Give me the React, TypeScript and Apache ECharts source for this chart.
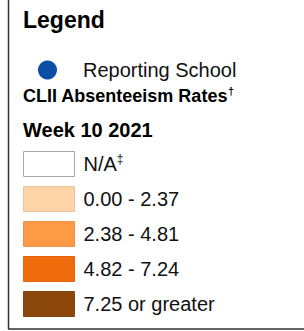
import React, { useEffect, useRef } from "react";
import * as echarts from "echarts";

const pointSeries = ["Reporting School"];
const pointColors = ["#0B4EA3"];
const rateCategories = ["N/A", "0.00 - 2.37", "2.38 - 4.81", "4.82 - 7.24", "7.25 or greater"];
const rateColors = ["#FFFFFF", "#FDD4A8", "#FD9A45", "#F06B0C", "#8B4709"];
const rateBorders = ["#A8A8A8", "#E9C39A", "#EE9448", "#E0670F", "#7E4610"];
const titleText = "Legend";
const rateTitle = "CLII Absenteeism Rates";
const weekTitle = "Week 10 2021";

const FONT = "'Liberation Sans', Arial, sans-serif";

export default function App() {
  const ref = useRef<HTMLDivElement>(null);
  useEffect(() => {
    if (!ref.current) return;
    const chart = echarts.init(ref.current, null, { renderer: "svg" });
    const series: any[] = [];
    pointSeries.forEach((n, i) =>
      series.push({ type: "scatter", name: n, data: [], symbol: "circle", itemStyle: { color: pointColors[i], opacity: 1 } })
    );
    rateCategories.forEach((n, i) =>
      series.push({
        type: "scatter",
        name: n,
        data: [],
        symbol: "rect",
        itemStyle: { color: rateColors[i], borderColor: rateBorders[i], borderWidth: 1, opacity: 1 },
      })
    );
    chart.setOption({
      animation: false,
      backgroundColor: "#fff",
      grid: { show: false, left: 0, top: 0, width: 1, height: 1 },
      xAxis: { show: false, type: "value" },
      yAxis: { show: false, type: "value" },
      legend: [
        {
          orient: "vertical",
          left: 38,
          top: 60,
          padding: 0,
          itemWidth: 19,
          itemHeight: 19,
          selectedMode: false,
          data: pointSeries.map((n, i) => ({ name: n, icon: "circle", itemStyle: { color: pointColors[i], opacity: 1 } })),
          textStyle: { fontFamily: FONT, fontSize: 20, color: "#111", padding: [0, 0, 0, 21] },
        },
        {
          orient: "vertical",
          left: 23,
          top: 151,
          padding: 0,
          itemWidth: 51,
          itemHeight: 25,
          itemGap: 9,
          selectedMode: false,
          data: rateCategories.map((n, i) => ({
            name: n,
            icon: "rect",
            itemStyle: { color: rateColors[i], borderColor: rateBorders[i], borderWidth: 1, opacity: 1 },
          })),
          formatter: (name: string) => (name === "N/A" ? "{t|N/A}{s|‡}" : "{t|" + name + "}"),
          textStyle: {
            fontFamily: FONT,
            fontSize: 20,
            color: "#111",
            padding: [0, 0, 0, 4],
            rich: {
              t: { fontFamily: FONT, fontSize: 20, color: "#111", lineHeight: 22 },
              s: { fontFamily: FONT, fontSize: 12, color: "#111", verticalAlign: "top", lineHeight: 22 },
            },
          },
        },
      ],
      graphic: [
        {
          type: "line",
          shape: { x1: 8.5, y1: 0, x2: 8.5, y2: 329 },
          style: { stroke: "#333", lineWidth: 1.5 },
        },
        {
          type: "line",
          shape: { x1: 8, y1: 329, x2: 304, y2: 329 },
          style: { stroke: "#333", lineWidth: 1.5 },
        },
        {
          type: "text",
          x: 23,
          y: 20,
          style: { text: titleText, font: "bold 23px " + FONT, fill: "#000", verticalAlign: "middle" },
        },
        {
          type: "text",
          x: 23,
          y: 96,
          style: {
            text: "{t|" + rateTitle + "}{s|†}",
            verticalAlign: "middle",
            rich: {
              t: { fontFamily: FONT, fontWeight: "bold", fontSize: 18, fill: "#000", lineHeight: 22 },
              s: { fontFamily: FONT, fontWeight: "bold", fontSize: 11, fill: "#000", verticalAlign: "top", lineHeight: 22 },
            },
          },
        },
        {
          type: "text",
          x: 23,
          y: 130,
          style: { text: weekTitle, font: "bold 20px " + FONT, fill: "#000", verticalAlign: "middle" },
        },
      ],
      series,
    });
    return () => chart.dispose();
  }, []);
  return <div ref={ref} style={{ position: "fixed", left: 0, top: 0, width: 304, height: 331 }} />;
}
